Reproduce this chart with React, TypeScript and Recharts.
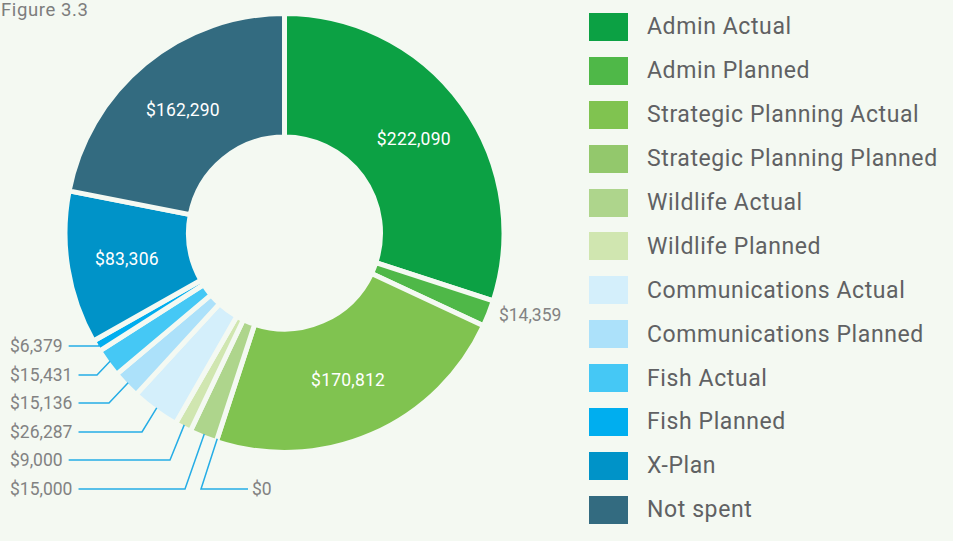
import React from "react"
import { PieChart, Pie, Cell, Legend } from "recharts"

// Figure 3.3 – budget breakdown (donut)
const categories = [
  "Admin Actual",
  "Admin Planned",
  "Strategic Planning Actual",
  "Strategic Planning Planned",
  "Wildlife Actual",
  "Wildlife Planned",
  "Communications Actual",
  "Communications Planned",
  "Fish Actual",
  "Fish Planned",
  "X-Plan",
  "Not spent",
]

const amounts = [222090, 14359, 170812, 0, 15000, 9000, 26287, 15136, 15431, 6379, 83306, 162290]

const colors = [
  "#0ca144",
  "#4fb848",
  "#80c350",
  "#93c86c",
  "#aed58c",
  "#d0e6b0",
  "#d4effb",
  "#ace1fa",
  "#45c8f5",
  "#00aeef",
  "#0093c8",
  "#336b80",
]

// slices whose value sits inside the ring
const insideLabels = ["Admin Actual", "Strategic Planning Actual", "X-Plan", "Not spent"]

// callout placement for the small slices on the lower left
const callouts: Record<string, { y: number; knee: number; textX?: number }> = {
  "Fish Planned": { y: 346, knee: 99 },
  "Fish Actual": { y: 375, knee: 97 },
  "Communications Planned": { y: 403, knee: 109 },
  "Communications Actual": { y: 432, knee: 142 },
  "Wildlife Planned": { y: 460, knee: 170 },
  "Wildlife Actual": { y: 489, knee: 185 },
  "Strategic Planning Planned": { y: 489, knee: 201, textX: 252 },
}

const data = categories.map((name, i) => ({ name, value: amounts[i] }))

const BG = "#f4f9f2"
const FONT = "Roboto, 'Noto Sans', sans-serif"
const RAD = Math.PI / 180
const LABEL_SIZE = 17.5

const money = (v: number) => "$" + v.toLocaleString("en-US")

const textWidth = (s: string, size: number) =>
  s.split("").reduce((w, c) => w + (c === "," || c === "." ? 0.2 : 0.562) * size, 0)

const renderLabel = (props: any) => {
  const { cx, cy, midAngle, innerRadius, outerRadius, index } = props
  const name = categories[index]
  const label = money(amounts[index])
  const pt = (r: number) => ({
    x: cx + r * Math.cos(-midAngle * RAD),
    y: cy + r * Math.sin(-midAngle * RAD),
  })

  if (insideLabels.includes(name)) {
    const p = pt((innerRadius + outerRadius) / 2 + 2)
    return (
      <text x={p.x} y={p.y} fill="#ffffff" fontSize={LABEL_SIZE} fontFamily={FONT} letterSpacing={0.2} textAnchor="middle" dominantBaseline="central">
        {label}
      </text>
    )
  }

  const c = callouts[name]
  if (!c) {
    const p = pt(outerRadius + 11)
    return (
      <text x={p.x} y={p.y - 3} fill="#828282" fontSize={LABEL_SIZE} fontFamily={FONT} textAnchor="start" dominantBaseline="central">
        {label}
      </text>
    )
  }

  const a = pt(outerRadius - 3)
  if (c.textX) {
    return (
      <g>
        <polyline points={`${a.x},${a.y} ${c.knee},${c.y} ${c.textX - 4},${c.y}`} fill="none" stroke="#25ade6" strokeWidth={1.5} />
        <text x={c.textX} y={c.y} fill="#828282" fontSize={LABEL_SIZE} fontFamily={FONT} textAnchor="start" dominantBaseline="central">
          {label}
        </text>
      </g>
    )
  }
  const lineStart = 10 + textWidth(label, LABEL_SIZE) + 6
  return (
    <g>
      <polyline points={`${a.x},${a.y} ${c.knee},${c.y} ${lineStart},${c.y}`} fill="none" stroke="#25ade6" strokeWidth={1.5} />
      <text x={10} y={c.y} fill="#828282" fontSize={LABEL_SIZE} fontFamily={FONT} textAnchor="start" dominantBaseline="central">
        {label}
      </text>
    </g>
  )
}

const renderLegend = () => (
  <div>
    {categories.map((name, i) => (
      <div key={name} style={{ display: "flex", alignItems: "center", height: 43.9 }}>
        <div style={{ width: 39, height: 28, background: colors[i], flexShrink: 0 }} />
        <span style={{ marginLeft: 19, fontSize: 23, letterSpacing: 0.6, color: "#606163", fontFamily: FONT, whiteSpace: "nowrap" }}>
          {name}
        </span>
      </div>
    ))}
  </div>
)

export default function App() {
  return (
    <div style={{ position: "fixed", left: 0, top: 0, width: 953, height: 541, background: BG, overflow: "hidden" }}>
      <div style={{ position: "absolute", left: 1, top: 0, fontSize: 18.5, letterSpacing: 0.6, color: "#7d7d7d", fontFamily: FONT, lineHeight: "21px" }}>
        Figure 3.3
      </div>
      <PieChart width={953} height={541} margin={{ top: 0, right: 0, bottom: 0, left: 0 }}>
        <Pie
          data={data}
          dataKey="value"
          nameKey="name"
          cx={284.5}
          cy={233}
          innerRadius={96}
          outerRadius={219.5}
          startAngle={90}
          endAngle={-270}
          stroke={BG}
          strokeWidth={5}
          label={renderLabel}
          labelLine={false}
          isAnimationActive={false}
        >
          {data.map((d, i) => (
            <Cell key={d.name} fill={colors[i]} />
          ))}
        </Pie>
        <Legend
          layout="vertical"
          verticalAlign="top"
          align="right"
          content={renderLegend}
          wrapperStyle={{ left: 589, top: 5, width: 364 }}
        />
      </PieChart>
    </div>
  )
}
